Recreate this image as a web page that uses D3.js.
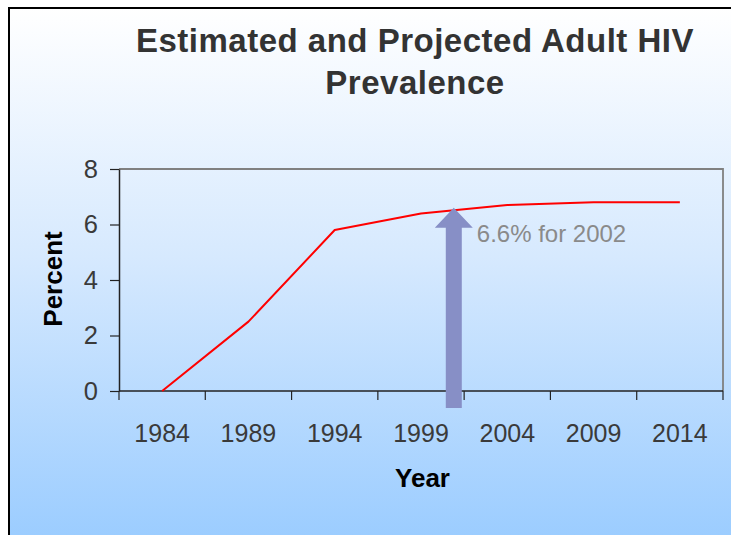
<!DOCTYPE html>
<html>
<head>
<meta charset="utf-8">
<script src="https://cdn.jsdelivr.net/npm/d3@7"></script>
<style>
  html, body { margin: 0; padding: 0; background: #fff; }
  svg { display: block; }
  text { font-family: "Liberation Sans", Arial, sans-serif; }
</style>
</head>
<body>
<svg id="chart" width="731" height="535"></svg>
<script>
// ---- data ----
const years = ["1984", "1989", "1994", "1999", "2004", "2009", "2014"];
const prevalence = [0, 2.5, 5.8, 6.4, 6.7, 6.8, 6.8];
const yTicks = [0, 2, 4, 6, 8];
const titleLines = ["Estimated and Projected Adult HIV", "Prevalence"];
const annotationText = "6.6% for 2002";
const annotationYear = 2000.9;
const annotationValue = 6.6;

// ---- layout ----
const W = 731, H = 535;
const plot = { left: 119, right: 723, top: 169, bottom: 391 };

const svg = d3.select("#chart");
const defs = svg.append("defs");
const grad = defs.append("linearGradient").attr("id", "bg")
  .attr("x1", 0).attr("y1", 0).attr("x2", 0).attr("y2", 1);
grad.append("stop").attr("offset", "0%").attr("stop-color", "#ffffff");
grad.append("stop").attr("offset", "45%").attr("stop-color", "#d6e9fe");
grad.append("stop").attr("offset", "100%").attr("stop-color", "#96caff");

svg.append("rect").attr("width", W).attr("height", H).attr("fill", "#fff");
svg.append("rect")
  .attr("x", 9).attr("y", 8).attr("width", W + 20).attr("height", H + 20)
  .attr("fill", "url(#bg)").attr("stroke", "#000").attr("stroke-width", 2);

// ---- scales ----
const x = d3.scaleBand().domain(years).range([plot.left, plot.right]).padding(0);
const y = d3.scaleLinear().domain([0, 8]).range([plot.bottom, plot.top]);
const bw = x.bandwidth();
const cx = d => x(d) + bw / 2;
const yearPos = v => cx(years[0]) + (v - +years[0]) / 5 * bw;

// ---- plot frame (top & right in gray) ----
svg.append("path")
  .attr("d", `M${plot.left},${plot.top}H${plot.right}V${plot.bottom}`)
  .attr("fill", "none").attr("stroke", "#808080").attr("stroke-width", 1.8);

// ---- Y axis ----
const yAxis = d3.axisLeft(y).tickValues(yTicks).tickSize(9).tickPadding(12).tickSizeOuter(0);
const gy = svg.append("g").attr("transform", `translate(${plot.left},0)`).call(yAxis);
gy.select(".domain").attr("stroke", "#222").attr("stroke-width", 1.5);
gy.selectAll(".tick line").attr("stroke", "#222").attr("stroke-width", 1.2);
gy.selectAll(".tick text").attr("font-size", 25.5).attr("fill", "#3a3a3a")
  .attr("font-family", "Liberation Sans, Arial, sans-serif");

// ---- X axis: labels at centers, ticks at band edges ----
const xAxis = d3.axisBottom(x).tickSize(0).tickPadding(33).tickSizeOuter(0);
const gx = svg.append("g").attr("transform", `translate(0,${plot.bottom})`).call(xAxis);
gx.select(".domain").remove();
gx.selectAll(".tick text").attr("font-size", 25).attr("fill", "#3a3a3a")
  .attr("font-family", "Liberation Sans, Arial, sans-serif");
const edges = years.map(d => x(d)).concat([x(years[years.length - 1]) + bw]);
svg.append("line")
  .attr("x1", plot.left).attr("x2", plot.right)
  .attr("y1", plot.bottom).attr("y2", plot.bottom)
  .attr("stroke", "#222").attr("stroke-width", 1.5);
svg.append("g").selectAll("line").data(edges).join("line")
  .attr("x1", d => d).attr("x2", d => d)
  .attr("y1", plot.bottom).attr("y2", plot.bottom + 9)
  .attr("stroke", "#222").attr("stroke-width", 1.2);

// ---- line ----
const pts = years.map((d, i) => [cx(d), y(prevalence[i])]);
svg.append("path")
  .attr("d", d3.line()(pts))
  .attr("fill", "none").attr("stroke", "#ff0000").attr("stroke-width", 2)
  .attr("stroke-linejoin", "round");

// ---- arrow annotation ----
const ax = yearPos(annotationYear);
const tipY = y(annotationValue);
const headH = 20, headW = 19, shaftW = 8;
const baseY = tipY + headH;
const bottomY = plot.bottom + 17;
svg.append("path")
  .attr("d", `M${ax},${tipY}L${ax + headW},${baseY}L${ax + shaftW},${baseY}` +
             `L${ax + shaftW},${bottomY}L${ax - shaftW},${bottomY}L${ax - shaftW},${baseY}` +
             `L${ax - headW},${baseY}Z`)
  .attr("fill", "#878fc6");
svg.append("text")
  .attr("x", ax + 23).attr("y", tipY + 34)
  .attr("font-size", 24).attr("fill", "#8a8a8a")
  .text(annotationText);

// ---- titles ----
svg.append("g").selectAll("text").data(titleLines).join("text")
  .attr("x", 415).attr("y", (d, i) => 52 + i * 41.6)
  .attr("text-anchor", "middle")
  .attr("font-size", 33).attr("font-weight", "bold").attr("fill", "#333")
  .attr("letter-spacing", 0.5)
  .text(d => d);

svg.append("text")
  .attr("transform", `translate(62,279) rotate(-90)`)
  .attr("text-anchor", "middle")
  .attr("font-size", 26).attr("font-weight", "bold").attr("fill", "#000")
  .text("Percent");

svg.append("text")
  .attr("x", 422.5).attr("y", 487)
  .attr("text-anchor", "middle")
  .attr("font-size", 26).attr("font-weight", "bold").attr("fill", "#000")
  .text("Year");
</script>
</body>
</html>
